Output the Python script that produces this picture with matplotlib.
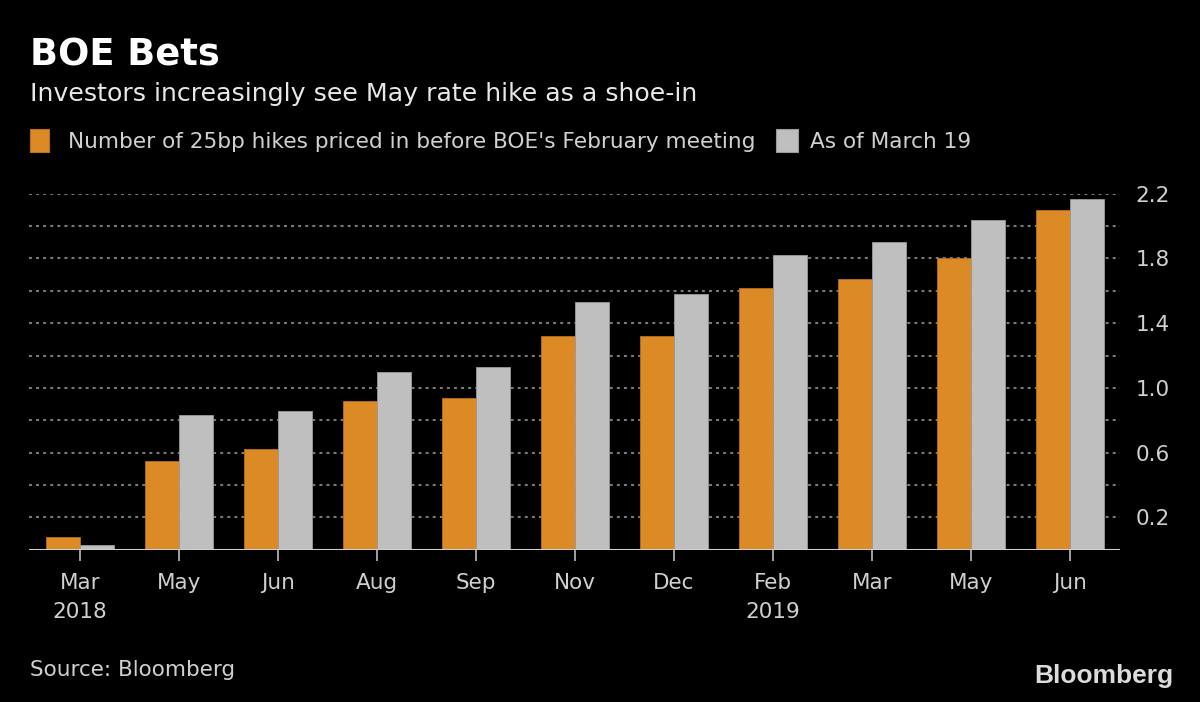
import matplotlib
matplotlib.use("Agg")
import matplotlib.pyplot as plt
from matplotlib.patches import Rectangle
import numpy as np

months = ['Mar', 'May', 'Jun', 'Aug', 'Sep', 'Nov', 'Dec', 'Feb', 'Mar', 'May', 'Jun']
years = ['2018', '', '', '', '', '', '', '2019', '', '', '']
before_feb = [0.08, 0.55, 0.62, 0.92, 0.94, 1.32, 1.32, 1.62, 1.67, 1.80, 2.10]
as_of_mar19 = [0.03, 0.83, 0.86, 1.10, 1.13, 1.53, 1.58, 1.82, 1.90, 2.04, 2.17]
ytick_vals = [0.2, 0.6, 1.0, 1.4, 1.8, 2.2]
grid_vals = [0.2, 0.4, 0.6, 0.8, 1.0, 1.2, 1.4, 1.6, 1.8, 2.0, 2.2]

title = 'BOE Bets'
subtitle = 'Investors increasingly see May rate hike as a shoe-in'
legend_labels = ["Number of 25bp hikes priced in before BOE's February meeting", 'As of March 19']
source = 'Source: Bloomberg'

ORANGE = '#DB8A26'
GREY = '#BFBFBF'
BG = '#000000'

plt.rcParams['font.family'] = ['DejaVu Sans']

W, H = 1200, 702
fig = plt.figure(figsize=(W / 100, H / 100), dpi=100, facecolor=BG)
ax = fig.add_axes([29 / W, 1 - 549.7 / H, (1120 - 29) / W, (549.7 - 193.7) / H], facecolor=BG)

x = np.arange(len(months))
bw = 0.343
ax.bar(x - bw / 2, before_feb, width=bw, color=ORANGE, edgecolor='#B8701C', linewidth=0.6, zorder=3)
ax.bar(x + bw / 2, as_of_mar19, width=bw, color=GREY, edgecolor='#9A9A9A', linewidth=0.6, zorder=3)

for g in grid_vals:
    ax.axhline(g, color='#7a7a7a', linestyle=(0, (1.4, 2.0)), linewidth=1.5, zorder=1)
ax.axhline(0, color='#cfcfcf', linewidth=1.5, zorder=4)

ax.set_xlim(-0.515, 10.505)
ax.set_ylim(0, 2.2)

for s in ax.spines.values():
    s.set_visible(False)

ax.set_xticks(x)
ax.set_xticklabels([m if not y else m + '\n' + y for m, y in zip(months, years)],
                   color='#d0d0d0', fontsize=15.5, linespacing=1.55)
ax.tick_params(axis='x', length=8, width=1.2, color='#bdbdbd', pad=9)

ax.yaxis.tick_right()
ax.set_yticks(ytick_vals)
ax.set_yticklabels(['%.1f' % v for v in ytick_vals], color='#d0d0d0', fontsize=15.5)
ax.tick_params(axis='y', length=0, pad=11)

# Titles
fig.text(30 / W, 1 - 65 / H, title, color='white', fontsize=26.5, fontweight='bold', va='baseline', ha='left')
fig.text(30 / W, 1 - 101 / H, subtitle, color='#e8e8e8', fontsize=18.2, va='baseline', ha='left')

# Legend
fig.patches.append(Rectangle((30 / W, 1 - 152 / H), 19 / W, 23 / H, transform=fig.transFigure,
                             facecolor=ORANGE, edgecolor='#B8701C', linewidth=0.8))
fig.text(68 / W, 1 - 148 / H, legend_labels[0], color='#d0d0d0', fontsize=15.6, va='baseline', ha='left')
fig.patches.append(Rectangle((776 / W, 1 - 152 / H), 22 / W, 23 / H, transform=fig.transFigure,
                             facecolor=GREY, edgecolor='#9A9A9A', linewidth=0.8))
fig.text(810 / W, 1 - 148 / H, legend_labels[1], color='#d0d0d0', fontsize=15.6, va='baseline', ha='left')

# Footer
fig.text(30 / W, 1 - 676 / H, source, color='#d0d0d0', fontsize=15.5, va='baseline', ha='left')
fig.text(1173 / W, 1 - 683 / H, 'Bloomberg', color='#dcdcdc', fontsize=19, fontweight='bold',
         family=['Liberation Sans', 'DejaVu Sans'], va='baseline', ha='right')

fig.savefig('out.png', dpi=100, facecolor=BG)
